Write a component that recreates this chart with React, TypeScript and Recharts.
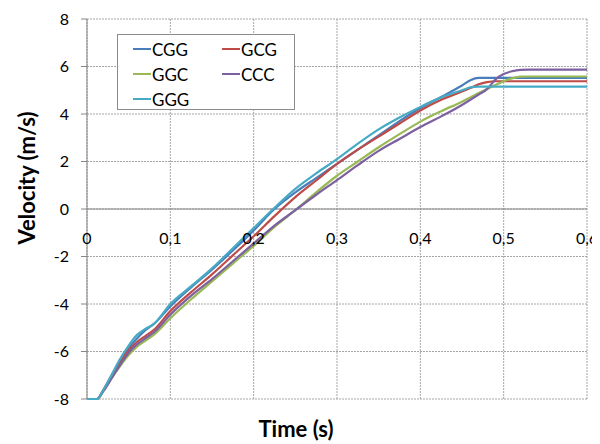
import React from "react";
import { LineChart, Line, XAxis, YAxis, CartesianGrid, ReferenceLine } from "recharts";

const time = [0, 0.012, 0.02, 0.03, 0.04, 0.05, 0.06, 0.07, 0.08, 0.1, 0.125, 0.15, 0.175, 0.2, 0.225, 0.25, 0.275, 0.3, 0.325, 0.35, 0.375, 0.4, 0.425, 0.45, 0.46, 0.47, 0.48, 0.49, 0.5, 0.51, 0.52, 0.53, 0.55, 0.6];
const cgg = [-8, -8, -7.6, -7.0, -6.35, -5.85, -5.45, -5.1, -4.85, -4.1, -3.3, -2.55, -1.75, -0.9, 0.0, 0.7, 1.3, 1.9, 2.5, 3.1, 3.7, 4.25, 4.72, 5.2, 5.42, 5.52, 5.52, 5.52, 5.52, 5.52, 5.52, 5.52, 5.52, 5.52];
const gcg = [-8, -8, -7.6, -7.0, -6.45, -5.95, -5.6, -5.35, -5.1, -4.3, -3.5, -2.75, -1.95, -1.15, -0.3, 0.5, 1.2, 1.9, 2.5, 3.05, 3.6, 4.15, 4.6, 4.95, 5.1, 5.25, 5.34, 5.38, 5.38, 5.38, 5.38, 5.38, 5.38, 5.38];
const ggc = [-8, -8, -7.65, -7.1, -6.6, -6.15, -5.8, -5.55, -5.3, -4.6, -3.8, -3.05, -2.3, -1.55, -0.75, -0.05, 0.7, 1.4, 2.0, 2.6, 3.15, 3.68, 4.12, 4.52, 4.7, 4.88, 5.05, 5.22, 5.38, 5.5, 5.57, 5.58, 5.58, 5.58];
const ccc = [-8, -8, -7.65, -7.1, -6.55, -6.05, -5.7, -5.45, -5.2, -4.45, -3.65, -2.95, -2.2, -1.45, -0.7, -0.05, 0.6, 1.22, 1.85, 2.45, 2.95, 3.45, 3.9, 4.38, 4.6, 4.82, 5.05, 5.45, 5.68, 5.8, 5.86, 5.87, 5.87, 5.87];
const ggg = [-8, -8, -7.6, -6.95, -6.3, -5.75, -5.3, -5.05, -4.85, -4.0, -3.25, -2.5, -1.65, -0.8, 0.05, 0.85, 1.5, 2.1, 2.75, 3.35, 3.85, 4.3, 4.7, 5.0, 5.12, 5.15, 5.15, 5.15, 5.15, 5.15, 5.15, 5.15, 5.15, 5.15];

const xTicks = [0, 0.1, 0.2, 0.3, 0.4, 0.5, 0.6];
const yTicks = [-8, -6, -4, -2, 0, 2, 4, 6, 8];

const seriesNames = ["CGG", "GCG", "GGC", "CCC", "GGG"];
const seriesColors = ["#4A7EBB", "#BE4B48", "#98B954", "#7D60A0", "#46AAC5"];
const seriesValues = [cgg, gcg, ggc, ccc, ggg];

const data = time.map((t, i) => {
  const row: Record<string, number> = { t };
  seriesNames.forEach((n, k) => {
    row[n] = seriesValues[k][i];
  });
  return row;
});

const FONT = "Lato, 'Open Sans', sans-serif";

const fmt = (v: number) => String(v).replace(".", ",");

const XTick = (props: any) => {
  const { x, payload } = props;
  return (
    <text x={x} y={236} textAnchor="middle" fontSize={16} fontFamily={FONT} fill="#000">
      {fmt(payload.value)}
    </text>
  );
};

const LegendBox = () => {
  const rows = [
    [0, 1],
    [2, 3],
    [4],
  ];
  return (
    <div
      style={{
        position: "absolute",
        left: 109,
        top: 26,
        width: 176,
        height: 74,
        border: "1px solid #8c8c8c",
        background: "#fff",
        fontFamily: FONT,
        fontSize: 17,
        color: "#000",
      }}
    >
      {rows.map((r, ri) =>
        r.map((k, ci) => (
          <div
            key={k}
            style={{
              position: "absolute",
              left: ci === 0 ? 15 : 104,
              top: 3 + ri * 25,
              height: 22,
              display: "flex",
              alignItems: "center",
            }}
          >
            <div style={{ width: 18, height: 2, background: seriesColors[k], marginRight: 1 }} />
            <span>{seriesNames[k]}</span>
          </div>
        ))
      )}
    </div>
  );
};

export default function App() {
  return (
    <div style={{ width: 592, height: 436, position: "relative", background: "#fff" }}>
      <LineChart width={592} height={436} data={data} margin={{ top: 11, right: 13, bottom: 0, left: 0 }}>
        <CartesianGrid stroke="#a6a6a6" strokeDasharray="2 1" vertical={true} horizontal={true} />
        <XAxis
          dataKey="t"
          type="number"
          domain={[0, 0.6]}
          ticks={xTicks}
          axisLine={false}
          tickLine={false}
          height={45}
          tick={<XTick />}
          interval={0}
        />
        <YAxis
          type="number"
          domain={[-8, 8]}
          ticks={yTicks}
          width={79}
          axisLine={{ stroke: "#868686", strokeWidth: 1 }}
          tickLine={{ stroke: "#868686" }}
          tickSize={6}
          tickMargin={12}
          tick={{ fontSize: 16, fontFamily: FONT, fill: "#000" }}
          interval={0}
        />
        <ReferenceLine y={0} stroke="#868686" strokeWidth={1} />
        {seriesNames.map((n, k) => (
          <Line
            key={n}
            dataKey={n}
            type="monotone"
            stroke={seriesColors[k]}
            strokeWidth={2.2}
            dot={false}
            isAnimationActive={false}
          />
        ))}
        <text
          x={296 - 8}
          y={428 - 8}
          textAnchor="middle"
          dominantBaseline="central"
          fontSize={22}
          fontWeight="bold"
          fontFamily={FONT}
          fill="#000"
        >
          Time (s)
        </text>
        <text
          x={0}
          y={0}
          transform={`translate(${26 - 8}, ${178 - 8}) rotate(-90)`}
          textAnchor="middle"
          dominantBaseline="central"
          fontSize={22}
          fontWeight="bold"
          fontFamily={FONT}
          fill="#000"
        >
          Velocity (m/s)
        </text>
      </LineChart>
      <LegendBox />
    </div>
  );
}
